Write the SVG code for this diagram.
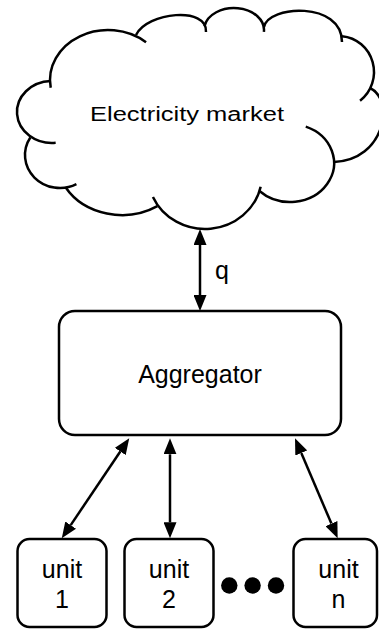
<svg xmlns="http://www.w3.org/2000/svg" width="379" height="631" viewBox="0 0 379 631">
  <style>
    .outline { fill: none; stroke: #000; stroke-width: 2.5; }
    .box { fill: #fff; stroke: #000; stroke-width: 2.5; }
    .label { font-family: "Liberation Sans", Arial, sans-serif; font-size: 25px; fill: #000; text-anchor: middle; }
    .link { fill: none; stroke: #000; stroke-width: 2.5; marker-start: url(#head); marker-end: url(#head); }
  </style>
  <defs>
    <!-- filled arrowhead; ref point sits on its base so the tip projects past the line end -->
    <marker id="head" markerUnits="userSpaceOnUse" markerWidth="16" markerHeight="13" refX="0" refY="6.5" orient="auto-start-reverse" viewBox="0 0 16 13">
      <path d="M0,0 L16,6.5 L0,13 Z" fill="#000"/>
    </marker>
  </defs>
  <rect width="379" height="631" fill="#fff"/>

  <!-- cloud: each bump is its own arc, overlapping slightly at the joints -->
  <g id="market">
    <path class="outline" d="M50.71,87.82 A58,50 0 0 1 146.05,42.26"/>
    <path class="outline" d="M136,35 C147,12 208,6 206,32"/>
    <path class="outline" d="M204.46,26.18 A30,22 0 0 1 263.89,31.92"/>
    <path class="outline" d="M264,27 C268,5 342,1 342,42"/>
    <path class="outline" d="M342.05,36.14 A35,36 0 0 1 360.06,100.75"/>
    <path class="outline" d="M370,88 C395,100 385,160 334,162"/>
    <path class="outline" d="M259.44,191.05 A44,39 0 1 0 305.77,126.59"/>
    <path class="outline" d="M152.93,196.96 A57,54 0 0 0 260.65,186.69"/>
    <path class="outline" d="M65.71,187.5 A65,55 0 0 0 157.4,206.13"/>
    <path class="outline" d="M30.32,137.51 A35,33 0 0 0 76.43,184.14"/>
    <path class="outline" d="M50.78,81.02 A35,31 0 1 0 55.66,142.83"/>
    <text class="label" x="187" y="121" font-size="20" style="font-size:20px" textLength="194" lengthAdjust="spacingAndGlyphs">Electricity market</text>
  </g>

  <g id="aggregator">
    <rect class="box" x="59" y="311" width="282" height="124" rx="16" ry="16"/>
    <text class="label" x="200" y="383">Aggregator</text>
  </g>

  <g id="unit1">
    <rect class="box" x="17.5" y="539" width="89" height="88" rx="12" ry="12"/>
    <text class="label" x="62" y="578">unit</text>
    <text class="label" x="62" y="608">1</text>
  </g>

  <g id="unit2">
    <rect class="box" x="124.5" y="539" width="89" height="88" rx="12" ry="12"/>
    <text class="label" x="169" y="578">unit</text>
    <text class="label" x="169" y="608">2</text>
  </g>

  <g id="unitn">
    <rect class="box" x="293.5" y="539" width="83.5" height="88" rx="12" ry="12"/>
    <text class="label" x="338.5" y="578">unit</text>
    <text class="label" x="338.5" y="608">n</text>
  </g>

  <g id="ellipsis" fill="#000">
    <circle cx="229.3" cy="585.5" r="8.2"/>
    <circle cx="252.6" cy="585.5" r="8.2"/>
    <circle cx="276" cy="585.5" r="8.2"/>
  </g>

  <g id="connectors">
    <line class="link" x1="200" y1="245" x2="200" y2="295"/>
    <text class="label" x="222" y="279">q</text>
    <line class="link" x1="120.3" y1="451.5" x2="70.7" y2="525.1"/>
    <line class="link" x1="170" y1="454.3" x2="170" y2="522.3"/>
    <line class="link" x1="301.3" y1="453" x2="331.4" y2="523.6"/>
  </g>
</svg>
